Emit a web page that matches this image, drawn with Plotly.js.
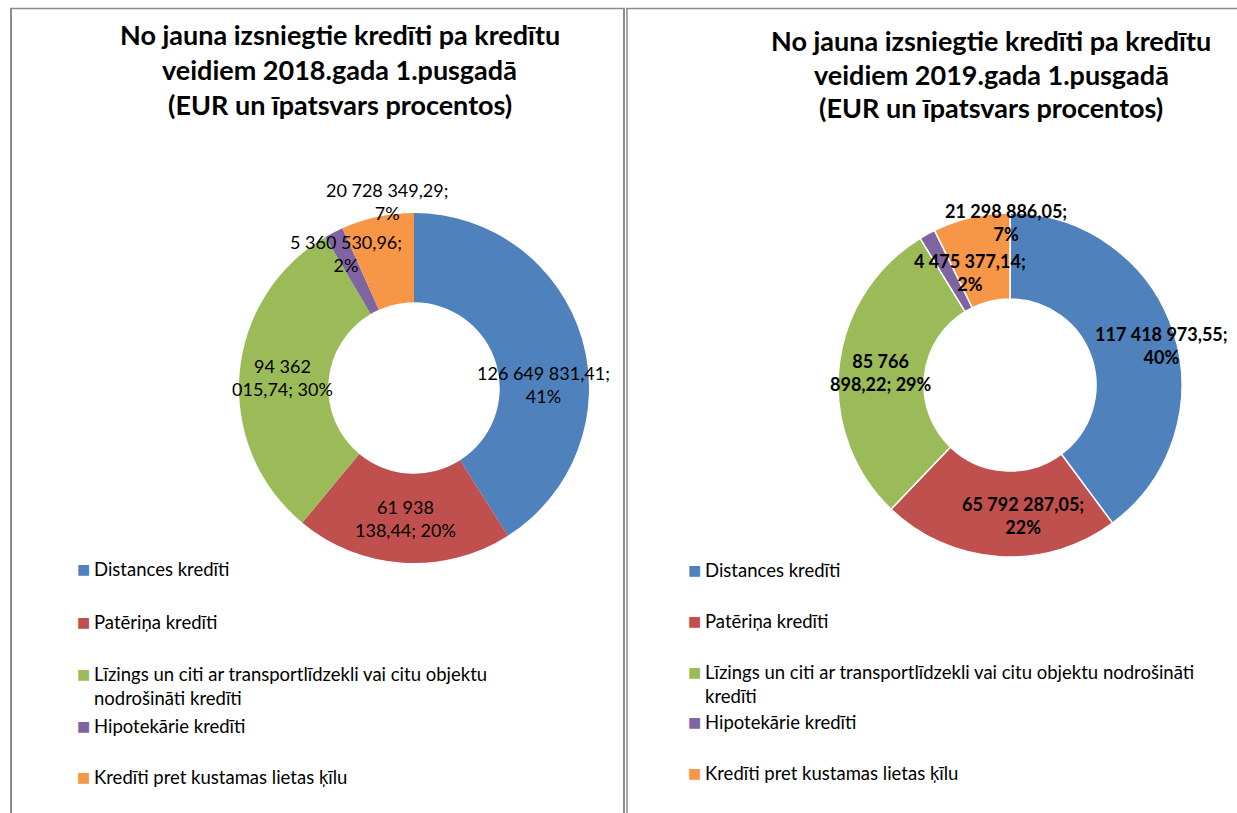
<!DOCTYPE html>
<html>
<head>
<meta charset="utf-8">
<script src="https://cdn.plot.ly/plotly-3.0.1.min.js"></script>
<style>html,body{margin:0;padding:0;background:#fff;}#chart{width:1237px;height:813px;}</style>
</head>
<body>
<div id="chart"></div>
<script>
// ---- data ----
const categories = [
  "Distances kredīti",
  "Patēriņa kredīti",
  "Līzings un citi ar transportlīdzekli vai citu objektu nodrošināti kredīti",
  "Hipotekārie kredīti",
  "Kredīti pret kustamas lietas ķīlu"
];
const values2018 = [126649831.41, 61938138.44, 94362015.74, 5360530.96, 20728349.29];
const values2019 = [117418973.55, 65792287.05, 85766898.22, 4475377.14, 21298886.05];
const pct2018 = [41, 20, 30, 2, 7];
const pct2019 = [40, 22, 29, 2, 7];
const titleLines2018 = ["No jauna izsniegtie kredīti pa kredītu", "veidiem 2018.gada 1.pusgadā", "(EUR un īpatsvars procentos)"];
const titleLines2019 = ["No jauna izsniegtie kredīti pa kredītu", "veidiem 2019.gada 1.pusgadā", "(EUR un īpatsvars procentos)"];
const colors = ["#4F81BD", "#C0504D", "#9BBB59", "#8064A2", "#F79646"];

// ---- layout helpers (pixel -> paper) ----
const W = 1237, H = 813;
const px = x => x / W;
const py = y => 1 - y / H;
const FONT = "Lato, 'Open Sans', sans-serif";

function fmt(v) {
  const s = v.toFixed(2);
  const parts = s.split('.');
  return parts[0].replace(/\B(?=(\d{3})+(?!\d))/g, ' ') + ',' + parts[1];
}

const panels = [
  {
    values: values2018, pct: pct2018, title: titleLines2018,
    center: [414, 388], radius: 175, hole: 0.49, lineW: 0,
    titleX: 340, titleY: [35, 70, 104],
    labelPos: [[543, 384], [405, 518], [282, 378], [346, 253], [387, 202]],
    labelBreak: [3, 2, 2, 3, 3], bold: false,
    legendSwX: 83.5, legendTxX: 92, legendY: [569, 622, 674, 726, 777], wrapAfter: 8
  },
  {
    values: values2019, pct: pct2019, title: titleLines2019,
    center: [1010, 385], radius: 172, hole: 0.5, lineW: 1.5,
    titleX: 991, titleY: [41, 75, 108],
    labelPos: [[1161, 345], [1023, 515], [881, 372], [970, 272], [1006, 222]],
    labelBreak: [3, 3, 2, 3, 3], bold: true,
    legendSwX: 694.5, legendTxX: 703, legendY: [570, 621, 672, 722, 773], wrapAfter: 9
  }
];

const traces = [];
const annotations = [];

panels.forEach(p => {
  const [cx, cy] = p.center, r = p.radius;
  traces.push({
    type: 'pie',
    labels: categories,
    values: p.values,
    sort: false,
    direction: 'clockwise',
    rotation: 0,
    hole: p.hole,
    textinfo: 'none',
    hoverinfo: 'label+value+percent',
    showlegend: false,
    marker: { colors: colors, line: { color: '#ffffff', width: p.lineW } },
    domain: { x: [px(cx - r), px(cx + r)], y: [py(cy + r), py(cy - r)] }
  });

  // titles
  p.title.forEach((t, i) => {
    annotations.push({
      xref: 'paper', yref: 'paper', x: px(p.titleX), y: py(p.titleY[i]),
      xanchor: 'center', yanchor: 'middle', showarrow: false,
      text: '<b>' + t + '</b>',
      font: { family: FONT, size: 27, color: '#000' }
    });
  });

  // data labels
  p.values.forEach((v, i) => {
    const tokens = (fmt(v) + '; ' + p.pct[i] + '%').split(' ');
    const b = p.labelBreak[i];
    let txt = tokens.slice(0, b).join(' ') + '<br>' + tokens.slice(b).join(' ');
    if (p.bold) txt = '<b>' + txt + '</b>';
    annotations.push({
      xref: 'paper', yref: 'paper', x: px(p.labelPos[i][0]), y: py(p.labelPos[i][1]),
      xanchor: 'center', yanchor: 'middle', showarrow: false, align: 'center',
      text: txt,
      font: { family: FONT, size: 18, color: '#000' }
    });
  });

  // legend
  categories.forEach((c, i) => {
    const words = c.split(' ');
    let txt = c;
    if (words.length > p.wrapAfter) {
      txt = words.slice(0, p.wrapAfter).join(' ') + '<br>' + words.slice(p.wrapAfter).join(' ');
    }
    const y0 = p.legendY[i];
    annotations.push({
      xref: 'paper', yref: 'paper', x: px(p.legendSwX), y: py(y0),
      xanchor: 'center', yanchor: 'middle', showarrow: false,
      text: '■', font: { family: 'DejaVu Sans', size: 14, color: colors[i] }
    });
    annotations.push({
      xref: 'paper', yref: 'paper', x: px(p.legendTxX), y: py(y0 - 13),
      xanchor: 'left', yanchor: 'top', showarrow: false, align: 'left',
      text: txt, font: { family: FONT, size: 18.5, color: '#000' }
    });
  });
});

const frameColor = '#8c8c8c';
const shapes = [
  { type: 'line', xref: 'paper', yref: 'paper', x0: px(11), x1: px(11), y0: py(8), y1: 0, line: { color: frameColor, width: 2 } },
  { type: 'line', xref: 'paper', yref: 'paper', x0: px(10), x1: px(625), y0: py(8.5), y1: py(8.5), line: { color: frameColor, width: 1.5 } },
  { type: 'line', xref: 'paper', yref: 'paper', x0: px(624), x1: px(624), y0: py(8), y1: 0, line: { color: frameColor, width: 2 } },
  { type: 'line', xref: 'paper', yref: 'paper', x0: px(627), x1: px(627), y0: py(8), y1: 0, line: { color: frameColor, width: 1.5 } },
  { type: 'line', xref: 'paper', yref: 'paper', x0: px(626), x1: 1, y0: py(8.5), y1: py(8.5), line: { color: frameColor, width: 1.5 } }
];

const layout = {
  width: W, height: H,
  margin: { l: 0, r: 0, t: 0, b: 0 },
  paper_bgcolor: '#ffffff',
  plot_bgcolor: '#ffffff',
  showlegend: false,
  font: { family: FONT, color: '#000' },
  annotations: annotations,
  shapes: shapes
};

Plotly.newPlot('chart', traces, layout, { displayModeBar: false, staticPlot: true });
</script>
</body>
</html>
